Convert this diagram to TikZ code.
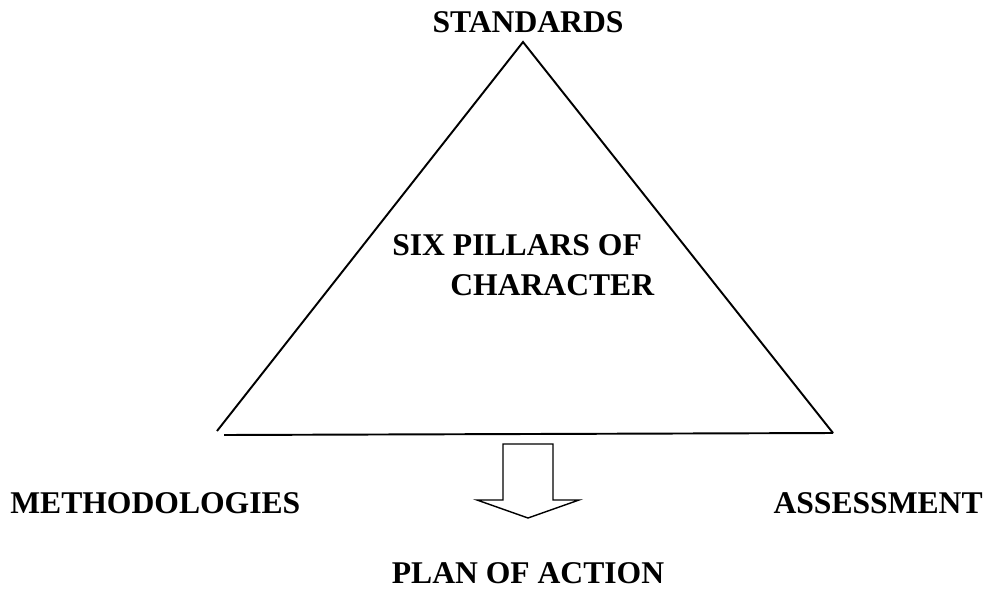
\documentclass[tikz,border=0pt]{standalone}
\usepackage{fontspec}
\setmainfont{Liberation Serif}
\tikzset{
  lbl/.style={anchor=base, inner sep=0pt, font=\fontsize{18}{22}\selectfont\bfseries},
  side/.style={line width=1.1pt}
}
\begin{document}
\begin{tikzpicture}[x=0.02cm, y=-0.02cm]
\useasboundingbox (0,0) rectangle (989,588);
% triangle
\coordinate (apex) at (523,42);
\coordinate (lcorner) at (217,431);
\coordinate (rcorner) at (833,433);
\coordinate (bstart) at (224,435);
\draw [side] (lcorner) -- (apex) -- (rcorner);
\draw [side] (bstart) -- (rcorner);

% block arrow
\draw [line width=0.8pt] (503,444) -- (553,444) -- (553,500) -- (579,500)
   -- (528,518) -- (477,500) -- (503,500) -- cycle;

\node [lbl] (standards) at (528,33) {STANDARDS};
\node [lbl, anchor=base west] (pillars) at (392,255) {SIX PILLARS OF};
\node [lbl, anchor=base west] (character) at (450,295) {CHARACTER};
\node [lbl, anchor=base west] (methods) at (10,513) {METHODOLOGIES};
\node [lbl, anchor=base east] (assess) at (983,513) {ASSESSMENT};
\node [lbl] (plan) at (528,583) {PLAN OF ACTION};
\end{tikzpicture}
\end{document}
